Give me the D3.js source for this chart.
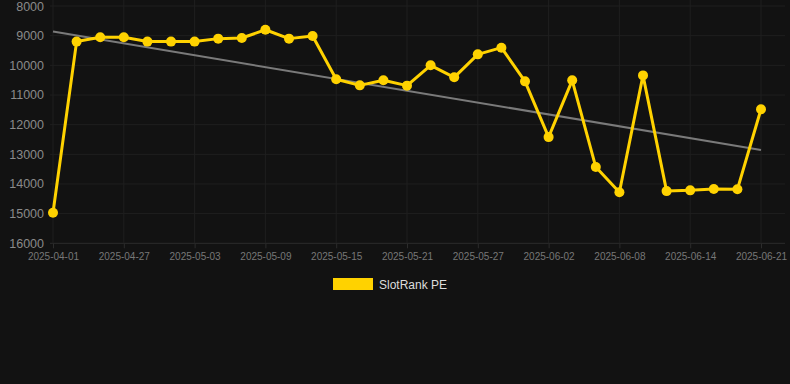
<!DOCTYPE html>
<html>
<head>
<meta charset="utf-8">
<script src="https://cdn.jsdelivr.net/npm/d3@7"></script>
<style>
  html, body { margin: 0; padding: 0; background: #121212; }
  svg { display: block; font-family: "Liberation Sans", Arial, sans-serif; }
</style>
</head>
<body>
<div id="container"></div>
<script>
const dates = ["2025-04-01","2025-04-23","2025-04-25","2025-04-27","2025-04-29","2025-05-01",
  "2025-05-03","2025-05-05","2025-05-07","2025-05-09","2025-05-11","2025-05-13",
  "2025-05-15","2025-05-17","2025-05-19","2025-05-21","2025-05-23","2025-05-25",
  "2025-05-27","2025-05-29","2025-05-31","2025-06-02","2025-06-04","2025-06-06",
  "2025-06-08","2025-06-10","2025-06-12","2025-06-14","2025-06-16","2025-06-18","2025-06-21"]
const rank = [14970,9200,9055,9055,9200,9200,9200,9100,9080,8800,9100,9010,
  10470,10675,10505,10685,10000,10405,9630,9405,10540,12420,10505,13430,
  14280,10340,14240,14215,14170,14180,11480]
const yTicks = [8000,9000,10000,11000,12000,13000,14000,15000,16000]
const seriesName = "SlotRank PE"

const width = 790, height = 384

const svg = d3.select("#container").append("svg")
  .attr("width", width)
  .attr("height", height)

svg.append("rect").attr("width", width).attr("height", height).attr("fill", "#121212")

const x = d3.scalePoint().domain(dates).range([53, 761])
const y = d3.scaleLinear().domain([8000, 16000]).range([6, 243.3])

const tickDates = dates.filter((_, i) => i % 3 == 0)

// grid
svg.append("g")
  .selectAll("line")
  .data(yTicks)
  .enter()
  .append("line")
  .attr("x1", 50).attr("x2", 785)
  .attr("y1", d => y(d)).attr("y2", d => y(d))
  .attr("stroke", d => d == 16000 ? "#2c2c2c" : "#1f1f1f")
  .attr("stroke-width", 1)

svg.append("g")
  .selectAll("line")
  .data(tickDates)
  .enter()
  .append("line")
  .attr("x1", d => x(d)).attr("x2", d => x(d))
  .attr("y1", 0).attr("y2", y(16000))
  .attr("stroke", "#1f1f1f")

// y axis labels
const yAxis = svg.append("g")
  .attr("transform", "translate(44,0)")
  .call(d3.axisLeft(y).tickValues(yTicks).tickSize(0).tickPadding(0).tickFormat(d3.format("d")))
yAxis.select(".domain").remove()
yAxis.selectAll("text").attr("fill", "#8a8a8a").attr("font-size", "12.5px")

// x axis labels
const xAxis = svg.append("g")
  .attr("transform", `translate(0,${y(16000)})`)
  .call(d3.axisBottom(x).tickValues(tickDates).tickSize(5).tickPadding(5))
xAxis.select(".domain").remove()
xAxis.selectAll("line").attr("stroke", "#2c2c2c")
xAxis.selectAll("text").attr("fill", "#777").attr("font-size", "10px")

// trend line (least squares)
const idx = rank.map((_, i) => i)
const n = rank.length
const mx = d3.mean(idx), my = d3.mean(rank)
const slope = d3.sum(idx, i => (i - mx) * (rank[i] - my)) / d3.sum(idx, i => (i - mx) * (i - mx))
const icpt = my - slope * mx
svg.append("line")
  .attr("x1", x(dates[0])).attr("y1", y(icpt))
  .attr("x2", x(dates[n - 1])).attr("y2", y(icpt + slope * (n - 1)))
  .attr("stroke", "#7a7a7a")
  .attr("stroke-width", 2)

// series
const line = d3.line().x((d, i) => x(dates[i])).y(d => y(d))
svg.append("path")
  .datum(rank)
  .attr("d", line)
  .attr("fill", "none")
  .attr("stroke", "#FFD200")
  .attr("stroke-width", 3)
  .attr("stroke-linejoin", "round")

svg.append("g")
  .selectAll("circle")
  .data(rank)
  .enter()
  .append("circle")
  .attr("cx", (d, i) => x(dates[i]))
  .attr("cy", d => y(d))
  .attr("r", 5)
  .attr("fill", "#FFD200")

// legend
svg.append("rect")
  .attr("x", 333).attr("y", 278)
  .attr("width", 40).attr("height", 12)
  .attr("fill", "#FFD200")
svg.append("text")
  .attr("x", 379).attr("y", 288.5)
  .attr("fill", "#dddddd")
  .attr("font-size", "12px")
  .text(seriesName)
</script>
</body>
</html>
